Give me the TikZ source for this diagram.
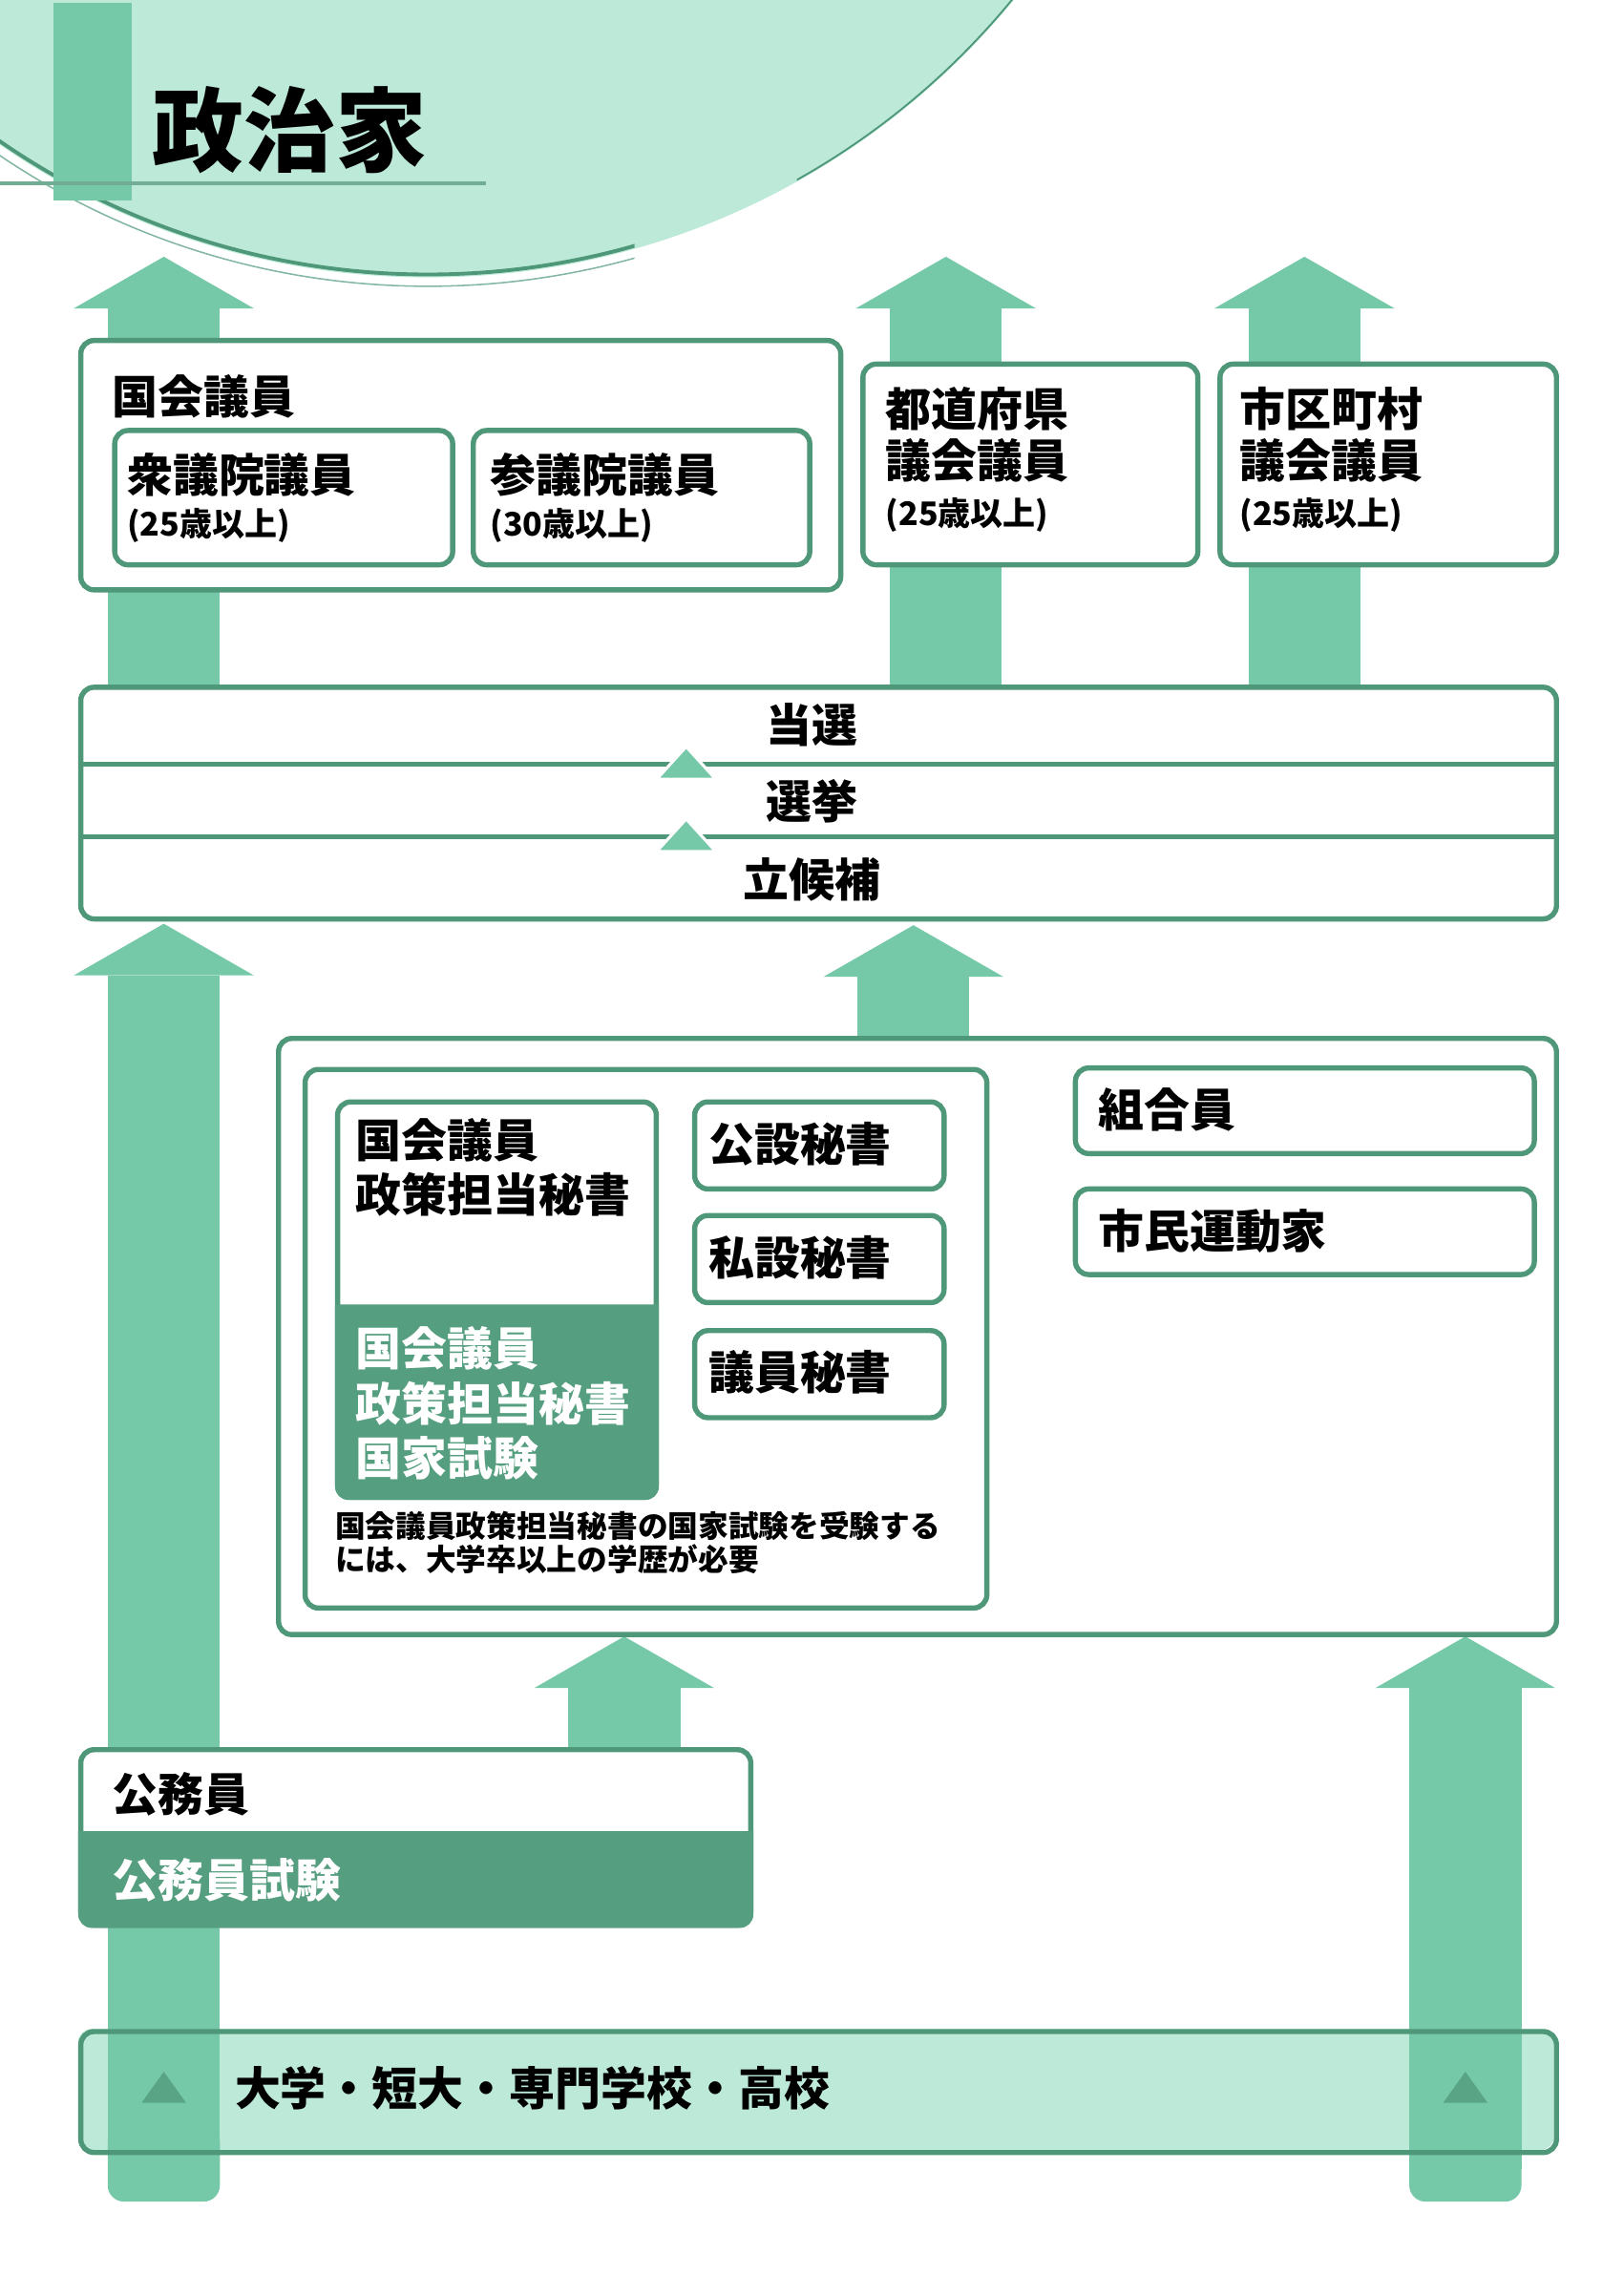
\documentclass[tikz,border=0pt]{standalone}
\usepackage{fontspec}
\setmainfont{Noto Sans CJK JP}
\usetikzlibrary{arrows.meta}
\definecolor{arrowgreen}{HTML}{76C9A8}
\definecolor{boxline}{HTML}{4E9879}
\definecolor{darkfill}{HTML}{559E7F}
\definecolor{lightmint}{HTML}{BDE9D8}
\tikzset{
  box/.style={draw=boxline, line width=3.5pt, fill=white, rounded corners=9pt,
    inner sep=0pt, anchor=north west},
  bigarrow/.style={draw=arrowgreen, line width=76pt,
    -{Triangle[width=122pt,length=35pt,line width=0pt]}},
  lbl/.style={anchor=west, inner sep=0pt, align=left,
    font=\bfseries\fontsize{31}{37}\selectfont},
  agetxt/.style={anchor=west, inner sep=0pt, font=\bfseries\fontsize{22}{24}\selectfont},
  divider/.style={draw=boxline, line width=3.5pt},
}
\begin{document}
\begin{tikzpicture}[x=1pt,y=-1pt]
    \useasboundingbox (0,0) rectangle (1100,1556);
    % title
    \fill[lightmint] (290,-325) circle[radius=513pt];
    \begin{scope}
      \clip (0,60) rectangle (430,220);
      \draw[boxline, line width=2.5pt] (290,-325) circle[radius=511pt];
      \draw[white, line width=1.2pt] (290,-325) circle[radius=516pt];
      \draw[boxline!70, line width=1pt] (290,-325) circle[radius=519pt];
    \end{scope}
    \begin{scope}
      \clip (540,0) rectangle (700,130);
      \draw[boxline, line width=1.2pt] (290,-325) circle[radius=512pt];
    \end{scope}
    \fill[arrowgreen] (36,2) rectangle (89,136);
    \draw[boxline!80, line width=2.6pt] (0,124) -- (329,124);
    \node[anchor=west, inner sep=0pt, font=\bfseries\fontsize{62}{70}\selectfont] (title) at (103,88) {政治家};

    \fill[lightmint, rounded corners=9pt] (53,1375) rectangle (1053,1457);

    % arrows
    \foreach \n/\x in {a/111,b/641,c/884}
      {\coordinate (foot\n) at (\x,540);
       \coordinate (tip\n) at (\x,174);
       \draw[bigarrow] (foot\n) -- (tip\n);}
    \coordinate (footd) at (111,1470); \coordinate (tipd) at (111,626);
    \coordinate (foote) at (619,800);  \coordinate (tipe) at (619,627);
    \coordinate (footf) at (423,1250); \coordinate (tipf) at (423,1109);
    \coordinate (footg) at (993,1470); \coordinate (tipg) at (993,1109);
    \foreach \n in {d,e,f,g}
      {\draw[bigarrow] (foot\n) -- (tip\n);}
    \foreach \n in {d,g}
      {\fill[arrowgreen, rounded corners=11pt] (foot\n) ++(-38,-30) rectangle ++(76,52);}

    % top boxes
    \node[box, minimum width=515pt, minimum height=169pt] (kokkai) at (53,229) {};
    \node[box, minimum width=229pt, minimum height=91pt] (shugi) at (76,290) {};
    \node[box, minimum width=228pt, minimum height=91pt] (sangi) at (319,290) {};
    \node[box, minimum width=227pt, minimum height=136pt] (todofuken) at (583,245) {};
    \node[box, minimum width=228pt, minimum height=136pt] (shichoson) at (825,245) {};
    \node[lbl] at (76,269) {国会議員};
    \node[lbl] at (86,322) {衆議院議員};
    \node[agetxt] at (86,356) {(25歳以上)};
    \node[lbl] at (332,322) {参議院議員};
    \node[agetxt] at (332,356) {(30歳以上)};
    \node[lbl] at (600,294.5) {都道府県\\[-2pt]議会議員};
    \node[agetxt] at (600,349) {(25歳以上)};
    \node[lbl] at (840,294.5) {市区町村\\[-2pt]議会議員};
    \node[agetxt] at (840,349) {(25歳以上)};

    % election
    \node[box, minimum width=1000pt, minimum height=157pt] (senkyo) at (53,464) {};
    \foreach \y in {518,567}
      {\draw[divider] (senkyo.west |- 0,\y) -- (senkyo.east |- 0,\y);
       \filldraw[fill=arrowgreen, draw=white, line width=2pt]
         (445,\y+10) -- (465,\y-12) -- (485,\y+10) -- cycle;}
    \node[lbl, anchor=center] at (550,491) {当選};
    \node[lbl, anchor=center] at (550,543) {選挙};
    \node[lbl, anchor=center] at (550,596) {立候補};

    % careers
    \node[box, minimum width=866pt, minimum height=404pt] (keireki) at (187,702) {};
    \node[box, minimum width=462pt, minimum height=365pt] (hisho) at (205,723) {};
    \node[box, minimum width=216pt, minimum height=268pt] (seisaku) at (227,745) {};
    \fill[darkfill] (seisaku.west |- 0,884) -- (seisaku.east |- 0,884)
      [rounded corners=9pt] -- (seisaku.south east) -- (seisaku.south west)
      [sharp corners] -- cycle;
    \node[lbl] at (241,791) {国会議員\\政策担当秘書};
    \node[lbl, text=white] at (241,951) {国会議員\\政策担当秘書\\国家試験};
    \foreach \n/\y/\t in {kousetsu/745/公設秘書,shisetsu/822/私設秘書,giin/900/議員秘書}
      {\node[box, minimum width=169pt, minimum height=59pt] (\n) at (469,\y) {};
       \node[lbl] at (480,\y+30) {\t};}
    \node[anchor=west, inner sep=0pt, align=left, font=\bfseries\fontsize{20.5}{23}\selectfont]
      (chui) at (227,1045.5) {国会議員政策担当秘書の国家試験を受験する\\には、大学卒以上の学歴が必要};
    \node[box, minimum width=311pt, minimum height=58pt] (kumiai) at (727,722) {};
    \node[box, minimum width=311pt, minimum height=58pt] (shimin) at (727,804) {};
    \node[lbl] at (744,752) {組合員};
    \node[lbl] at (744,834) {市民運動家};

    % civil servant
    \node[box, minimum width=454pt, minimum height=119pt] (koumu) at (53,1184) {};
    \fill[darkfill] (koumu.west |- 0,1241) -- (koumu.east |- 0,1241)
      [rounded corners=9pt] -- (koumu.south east) -- (koumu.south west)
      [sharp corners] -- cycle;
    \node[lbl] at (76,1216) {公務員};
    \node[lbl, text=white] at (76,1274) {公務員試験};

    % schools
    \node[box, fill=none, minimum width=1000pt, minimum height=82pt] (gakkou) at (53,1375) {};
    \foreach \x in {111,993}
      {\fill[boxline, opacity=0.75] (\x-15,1425) -- (\x,1404) -- (\x+15,1425) -- cycle;}
    \node[lbl] at (159,1415) {大学・短大・専門学校・高校};
\end{tikzpicture}
\end{document}
